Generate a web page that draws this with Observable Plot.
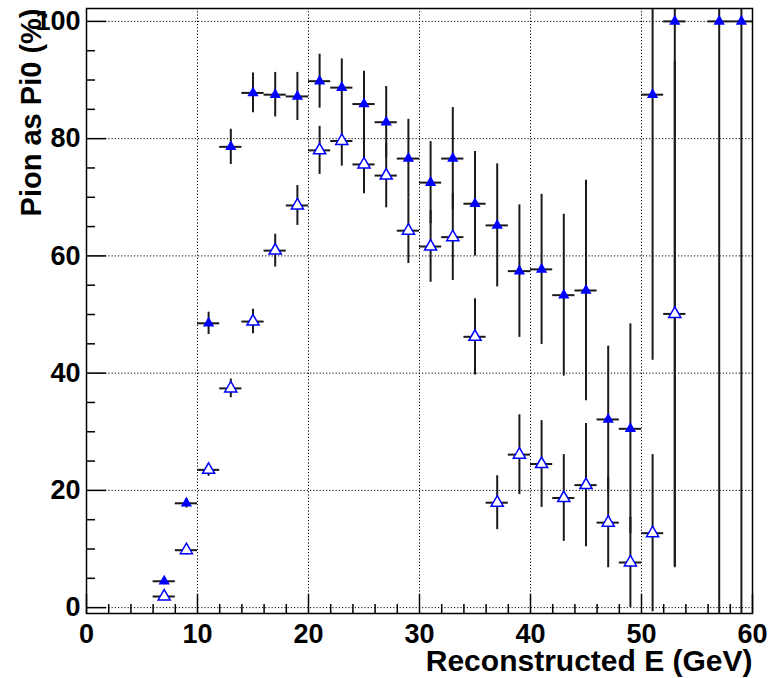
<!DOCTYPE html>
<html>
<head>
<meta charset="utf-8">
<script src="https://cdn.jsdelivr.net/npm/d3@7"></script>
<script src="https://cdn.jsdelivr.net/npm/@observablehq/plot@0.6"></script>
<style>
  html, body { margin: 0; padding: 0; background: #fff; }
  #chart svg { display: block; }
  #chart svg g[aria-label$="tick label"], #chart svg g[aria-label$="tick label"] text {
    font-weight: bold; font-size: 27px; fill: #000;
  }
</style>
</head>
<body>
<div id="chart"></div>
<script>
// ---- Data ----
// Filled triangles
const energyFilled = [7, 9, 11, 13, 15, 17, 19, 21, 23, 25, 27, 29, 31, 33, 35, 37, 39, 41, 43, 45, 47, 49, 51, 53, 57, 59];
const pionFilled   = [4.5, 17.8, 48.5, 78.6, 87.8, 87.5, 87.2, 89.8, 88.7, 85.9, 82.8, 76.6, 72.5, 76.6, 68.9, 65.2, 57.4, 57.7, 53.3, 54.1, 32.1, 30.5, 87.5, 100, 100, 100];
const errFilled    = [0.6, 0.8, 1.9, 3.0, 3.4, 3.8, 4.1, 4.6, 4.9, 5.6, 6.1, 6.7, 7.0, 8.7, 8.9, 10.5, 11.3, 12.8, 13.8, 18.8, 12.5, 17.9, 45.3, 93.2, 101, 101];
// Open triangles
const energyOpen = [7, 9, 11, 13, 15, 17, 19, 21, 23, 25, 27, 29, 31, 33, 35, 37, 39, 41, 43, 45, 47, 49, 51, 53];
const pionOpen   = [1.9, 9.8, 23.5, 37.4, 48.8, 60.9, 68.6, 78.0, 79.6, 75.6, 73.7, 64.3, 61.6, 63.2, 46.2, 17.9, 26.1, 24.5, 18.7, 20.9, 14.5, 7.7, 12.7, 50.1];
const errOpen    = [0.5, 0.8, 1.1, 1.6, 2.1, 2.8, 3.4, 4.1, 4.3, 5.0, 5.5, 5.6, 6.1, 7.4, 6.5, 4.6, 6.8, 7.4, 7.4, 10.5, 7.7, 7.7, 13.4, 43];
const binHalfWidth = 1;

// Axis / tick values
const xMajorTicks = [0, 10, 20, 30, 40, 50, 60];
const xMinorTicks = [2, 4, 6, 8, 12, 14, 16, 18, 22, 24, 26, 28, 32, 34, 36, 38, 42, 44, 46, 48, 52, 54, 56, 58];
const yMajorTicks = [0, 20, 40, 60, 80, 100];
const yMinorTicks = [5, 10, 15, 25, 30, 35, 45, 50, 55, 65, 70, 75, 85, 90, 95];
const xGrid = [10, 20, 30, 40, 50];
const yGrid = [0, 20, 40, 60, 80, 100];
const xTitle = "Reconstructed E (GeV)";
const yTitle = "Pion as Pi0 (%)";

// ---- Build tables ----
const filled = energyFilled.map((x, i) => ({x, y: pionFilled[i], e: errFilled[i]}));
const open = energyOpen.map((x, i) => ({x, y: pionOpen[i], e: errOpen[i]}));

const W = 774, H = 678;
const mL = 86, mR = 22, mT = 8, mB = 65;
const frameW = W - mL - mR, frameH = H - mT - mB;

const font = "'Liberation Sans', Arial, Helvetica, sans-serif";
const gridStyle = {stroke: "#000", strokeWidth: 1, strokeDasharray: "1.2,2"};
const errStyle = {stroke: "#1a1a1a", strokeWidth: 2, clip: true};

const chart = Plot.plot({
  width: W,
  height: H,
  marginLeft: mL,
  marginRight: mR,
  marginTop: mT,
  marginBottom: mB,
  style: {fontFamily: font, background: "#fff", color: "#000"},
  x: {domain: [0, 60], label: null},
  y: {domain: [-1.0, 102.2], label: null},
  marks: [
    // grid
    Plot.ruleX(xGrid, {x: d => d, ...gridStyle}),
    Plot.ruleY(yGrid, {y: d => d, ...gridStyle}),
    // inward ticks
    Plot.ruleX(xMajorTicks, {x: d => d, insetTop: frameH - 19, stroke: "#000", strokeWidth: 1.5}),
    Plot.ruleX(xMinorTicks, {x: d => d, insetTop: frameH - 9, stroke: "#000", strokeWidth: 1.5}),
    Plot.ruleY(yMajorTicks, {y: d => d, insetRight: frameW - 20, stroke: "#000", strokeWidth: 1.5}),
    Plot.ruleY(yMinorTicks, {y: d => d, insetRight: frameW - 9, stroke: "#000", strokeWidth: 1.5}),
    // axes labels
    Plot.axisX(xMajorTicks, {tickSize: 0, tickPadding: 10, fontSize: 27, fontWeight: "bold", fill: "#000", label: null}),
    Plot.axisY(yMajorTicks, {tickSize: 0, tickPadding: 6, fontSize: 27, fontWeight: "bold", fill: "#000", label: null}),
    // error bars filled
    Plot.ruleX(filled, {x: "x", y1: d => d.y - d.e, y2: d => d.y + d.e, ...errStyle}),
    Plot.ruleY(filled, {y: "y", x1: d => d.x - binHalfWidth, x2: d => d.x + binHalfWidth, ...errStyle}),
    // error bars open
    Plot.ruleX(open, {x: "x", y1: d => d.y - d.e, y2: d => d.y + d.e, ...errStyle}),
    Plot.ruleY(open, {y: "y", x1: d => d.x - binHalfWidth, x2: d => d.x + binHalfWidth, ...errStyle}),
    // markers
    Plot.dot(filled, {x: "x", y: "y", symbol: "triangle", r: 4.2, fill: "#0000ff", stroke: "none"}),
    Plot.dot(open, {x: "x", y: "y", symbol: "triangle", r: 4.5, fill: "#fff", stroke: "#0000ff", strokeWidth: 1.5}),
    // frame
    Plot.frame({stroke: "#000", strokeWidth: 1.5}),
    // titles
    Plot.text([xTitle], {text: d => d, frameAnchor: "bottom-right", textAnchor: "end", lineAnchor: "bottom", dy: 57, fontSize: 30, fontWeight: "bold", fill: "#000"}),
    Plot.text([yTitle], {text: d => d, frameAnchor: "top-left", rotate: -90, textAnchor: "end", lineAnchor: "bottom", dx: -46, dy: 0, fontSize: 29, fontWeight: "bold", fill: "#000"})
  ]
});
document.getElementById("chart").appendChild(chart);
</script>
</body>
</html>
